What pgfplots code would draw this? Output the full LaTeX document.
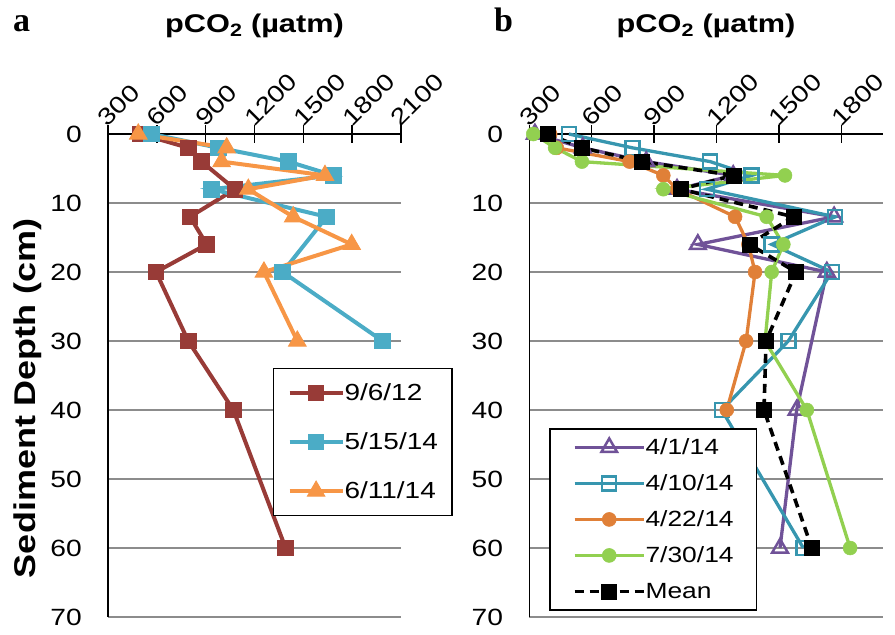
\documentclass[border=0pt]{standalone}
\usepackage{fontspec}
\setmainfont{Liberation Sans}[FakeStretch=1.2]
\newfontfamily\panelfont{Liberation Serif}
\usepackage{pgfplots}
\pgfplotsset{compat=1.18}
\definecolor{cRed}{RGB}{152,59,55}
\definecolor{cBlue}{RGB}{75,172,198}
\definecolor{cOrange}{RGB}{247,150,70}
\definecolor{cPurple}{RGB}{112,82,152}
\definecolor{cTeal}{RGB}{55,150,175}
\definecolor{cOrangeB}{RGB}{224,128,56}
\definecolor{cGreen}{RGB}{146,208,80}
\definecolor{cGrid}{RGB}{140,140,140}

\pgfplotsset{
  panel/.style={
    scale only axis, height=483bp,
    y dir=reverse, ymin=0, ymax=70, ytick={0,10,...,70},
    axis x line*=top, axis y line*=left,
    axis line style={-},
    every outer x axis line/.append style={-, black, line width=1.5bp},
    every outer y axis line/.append style={-, black, line width=1.5bp},
    xtick align=center, ytick align=inside, major tick length=18bp,
    xtick style={black, line width=1.5bp},
    ytick style={draw=none},
    ymajorgrids, major grid style={cGrid, line width=1.8bp},
    /pgf/number format/assume math mode=true,
    /pgf/number format/1000 sep={},
    tick label style={font=\fontsize{23.5bp}{28bp}\selectfont},
    xticklabel style={rotate=45, anchor=south west, inner sep=0pt, xshift=-2bp, yshift=-2bp},
    yticklabel style={anchor=east, inner sep=0pt, xshift=-26bp},
    clip=false,
    legend cell align=left,
  },
}

\pgfplotstableread{
v d
500 0
793 2
875 4
1080 8
804 12
906 16
595 20
793 30
1070 40
1391 60
}\tblA
\pgfplotstableread{
v d
568 0
978 2
1408 4
1684 6
937 8
1643 12
1373 20
1987 30
}\tblB
\pgfplotstableread{
v d
486 0
1029 2
998 4
1633 6
1162 8
1438 12
1797 16
1258 20
1463 30
}\tblC
\pgfplotstableread{
v d
327 0
557 2
862 4
1280 6
1010 8
1765 12
1110 16
1730 20
1585 40
1505 60
}\tblD
\pgfplotstableread{
v d
490 0
795 2
1169 4
1369 6
1153 8
1770 12
1465 16
1754 20
1545 30
1225 40
1617 60
}\tblE
\pgfplotstableread{
v d
400 0
432 2
782 4
944 6
1010 8
1289 12
1353 16
1385 20
1342 30
1249 40
}\tblF
\pgfplotstableread{
v d
319 0
424 2
553 4
1529 6
944 8
1441 12
1521 16
1465 20
1433 30
1634 40
1842 60
}\tblG
\pgfplotstableread{
v d
391 0
552 2
842 4
1281 6
1028 8
1569 12
1358 16
1582 20
1438 30
1428 40
1658 60
}\tblH

\begin{document}
\begin{tikzpicture}
\useasboundingbox (0,0) rectangle (895bp,635bp);

\begin{axis}[panel, at={(108bp,18bp)}, anchor=south west, width=293bp,
  xmin=300, xmax=2100, xtick={300,600,...,2100},
  legend style={at={(0.563,0.5155)}, anchor=north west, draw=black, line width=1.3bp, fill=white,
    font=\fontsize{23.3bp}{28bp}\selectfont, inner xsep=14bp, inner ysep=13.5bp, row sep=27bp,
    nodes={inner sep=0pt, minimum height=22bp},
    /tikz/every even column/.append style={column sep=5.3bp}},
  legend image code/.code={\draw[mark repeat=2,mark phase=2] plot coordinates {(0bp,0bp)(26.5bp,0bp)(53bp,0bp)};},
  every axis plot/.append style={line width=4bp},
]
\addplot[cRed, line width=4bp, mark=square*, mark size=7.8bp, mark options={line width=1bp}] table[x=v,y=d] {\tblA};
\addlegendentry{9/6/12}
\addplot[cBlue, line width=4bp, mark=square*, mark size=7.8bp, mark options={line width=1bp}] table[x=v,y=d] {\tblB};
\addlegendentry{5/15/14}
\addplot[cOrange, line width=4bp, mark=triangle*, mark size=10bp, mark options={line width=1bp}] table[x=v,y=d] {\tblC};
\addlegendentry{6/11/14}
\end{axis}

\begin{axis}[panel, at={(529.3bp,18bp)}, anchor=south west, width=353.7bp,
  xmin=300, xmax=2000, xtick={300,600,...,1800},
  legend style={at={(0.0565,0.3907)}, anchor=north west, draw=black, line width=1.3bp, fill=white,
    font=\fontsize{22bp}{26bp}\selectfont, inner xsep=23bp, inner ysep=8.5bp, row sep=16bp,
    nodes={inner sep=0pt, minimum height=20bp},
    /tikz/every even column/.append style={column sep=6.6bp}},
  legend image code/.code={\draw[mark repeat=2,mark phase=2] plot coordinates {(0bp,0bp)(34.5bp,0bp)(69bp,0bp)};},
]
\addplot[cPurple, line width=3.3bp, mark=triangle, mark size=9bp, mark options={line width=2.5bp}] table[x=v,y=d] {\tblD};
\addlegendentry{4/1/14}
\addplot[cTeal, line width=3.3bp, mark=square, mark size=7bp, mark options={line width=2.5bp}] table[x=v,y=d] {\tblE};
\addlegendentry{4/10/14}
\addplot[cOrangeB, line width=3.3bp, mark=*, mark size=7bp, mark options={line width=0.5bp}] table[x=v,y=d] {\tblF};
\addlegendentry{4/22/14}
\addplot[cGreen, line width=3.3bp, mark=*, mark size=7bp, mark options={line width=0.5bp}] table[x=v,y=d] {\tblG};
\addlegendentry{7/30/14}
\addplot[black, line width=3.6bp, dash pattern=on 9bp off 6bp, mark=square*, mark size=7.5bp, mark options={solid, line width=0.5bp}] table[x=v,y=d] {\tblH};
\addlegendentry{Mean}
\end{axis}

\node[anchor=base west, font=\panelfont\bfseries\fontsize{34bp}{40bp}\selectfont, inner sep=0pt] at (13bp,603bp) {a};
\node[anchor=base west, font=\panelfont\bfseries\fontsize{34bp}{40bp}\selectfont, inner sep=0pt] at (494bp,603bp) {b};
\node[anchor=base, font=\bfseries\fontsize{25.6bp}{30bp}\selectfont, inner sep=0pt] at (254.5bp,602bp) {pCO\textsubscript{2} (µatm)};
\node[anchor=base, font=\bfseries\fontsize{25.6bp}{30bp}\selectfont, inner sep=0pt] at (706bp,602bp) {pCO\textsubscript{2} (µatm)};
\node[rotate=90, font=\bfseries\fontsize{30bp}{36bp}\selectfont, inner sep=0pt] at (28bp,237bp) {Sediment Depth (cm)};
\end{tikzpicture}
\end{document}
